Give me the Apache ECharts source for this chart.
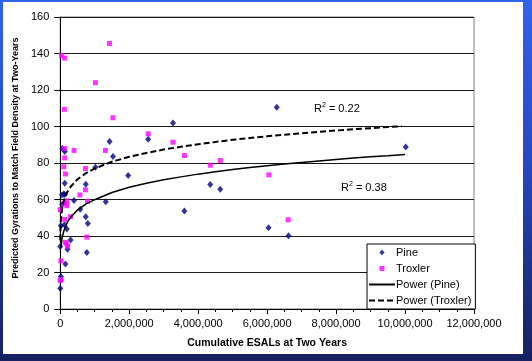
<!DOCTYPE html>
<html><head><meta charset="utf-8">
<script src="https://cdn.jsdelivr.net/npm/echarts@6/dist/echarts.min.js"></script>
<style>
html,body{margin:0;padding:0;width:532px;height:361px;overflow:hidden;background:linear-gradient(180deg,#3163ea 0%,#2648c0 45%,#15205e 100%);}
#chart{position:absolute;left:3px;top:2px;width:520px;height:352px;background:#fff;}
</style></head><body><div id="chart"></div>
<script>
// Pine (navy diamonds)
const pineX = [6280000, 3270000, 2550000, 1430000, 60000, 130000, 1530000, 1020000, 1970000, 130000, 740000, 4350000, 4640000, 130000, 100000, 400000, 1320000, 580000, 3600000, 740000, 800000, 20000, 120000, 190000, 300000, 210000, 770000, 0, 150000, 20000, 0, 6040000, 6620000, 10020000, 50000, 60000];
const pineY = [110.5, 101.9, 93, 91.8, 88, 86.3, 83.5, 77.7, 73.1, 68.9, 68.4, 68.2, 65.6, 62.8, 63, 59.4, 58.7, 54.6, 53.7, 50.6, 46.9, 45.6, 46.2, 43.8, 37.8, 32.8, 31, 34.3, 24.6, 17.8, 11.2, 44.5, 40.1, 88.7, 62.5, 57.2];
// Troxler (magenta squares)
const troxX = [40000, 130000, 1430000, 1020000, 120000, 1530000, 2550000, 3270000, 130000, 400000, 1310000, 130000, 3600000, 100000, 730000, 150000, 730000, 570000, 190000, 190000, 0, 790000, 300000, 130000, 210000, 150000, 770000, 20000, 20000, 4350000, 4640000, 6050000, 6610000, 120000, 190000, 0];
const troxY = [139, 137.5, 145.5, 124, 109.4, 104.8, 96, 91.4, 88, 86.9, 86.9, 82.8, 84.1, 77.9, 77, 74, 65.3, 62.5, 59.2, 56.6, 54.4, 59, 50.6, 49.1, 34.3, 36.5, 39.4, 26.4, 16.1, 78.8, 81.4, 73.5, 48.9, 58, 35.6, 15.6];
// Power trend lines
const pineTrendX = [20000, 50000, 100000, 200000, 300000, 500000, 750000, 1000000, 1500000, 2000000, 2500000, 3000000, 3500000, 4000000, 4500000, 5000000, 5500000, 6000000, 6500000, 7000000, 7500000, 8000000, 8500000, 9000000, 9500000, 10000000];
const pineTrendY = [33.5, 38.4, 42.6, 47.3, 50.2, 54.2, 57.6, 59.9, 63.8, 66.7, 68.9, 70.8, 72.4, 73.9, 75.2, 76.4, 77.5, 78.5, 79.4, 80.3, 81.1, 81.9, 82.7, 83.4, 84.0, 84.7];
const troxTrendX = [2000, 5000, 10000, 20000, 50000, 100000, 200000, 300000, 500000, 750000, 1000000, 1500000, 2000000, 2500000, 3000000, 3500000, 4000000, 4500000, 5000000, 5500000, 6000000, 6500000, 7000000, 7500000, 8000000, 8500000, 9000000, 9500000, 9900000];
const troxTrendY = [37.7, 41.9, 45.3, 49.1, 54.6, 59.1, 64.0, 67.0, 71.1, 74.5, 77.0, 80.7, 83.4, 85.5, 87.4, 88.9, 90.3, 91.5, 92.7, 93.7, 94.6, 95.5, 96.3, 97.1, 97.8, 98.5, 99.1, 99.7, 100.2];
const seriesNames = ['Pine', 'Troxler', 'Power (Pine)', 'Power (Troxler)'];
const r2Labels = ['0.22', '0.38'];
const xTitle = 'Cumulative ESALs at Two Years';
const yTitle = 'Predicted Gyrations to Match Field Density at Two-Years';

const zip = (a, b) => a.map((v, i) => [v, b[i]]);
const FONT = '"Liberation Sans", Arial, sans-serif';

const chart = echarts.init(document.getElementById('chart'), null, {renderer: 'canvas'});
chart.setOption({
  animation: false,
  textStyle: {fontFamily: FONT, color: '#000'},
  grid: {left: 53, right: 49, top: 15, bottom: 45, show: true, borderColor: '#808080', borderWidth: 1, containLabel: false},
  xAxis: {
    type: 'value', min: 0, max: 12000000, interval: 2000000,
    name: xTitle, nameLocation: 'middle', nameGap: 29,
    nameTextStyle: {fontFamily: FONT, fontSize: 10.5, fontWeight: 'bold', color: '#000'},
    axisLine: {show: true, lineStyle: {color: '#000', width: 1}},
    axisTick: {show: true, length: 5, lineStyle: {color: '#000'}},
    minorTick: {show: true, splitNumber: 4, length: 3, lineStyle: {color: '#000'}},
    splitLine: {show: false},
    axisLabel: {fontFamily: FONT, fontSize: 11, color: '#000', margin: 9,
      formatter: v => Math.round(v).toLocaleString('en-US')}
  },
  yAxis: {
    type: 'value', min: 0, max: 160, interval: 20,
    name: yTitle, nameLocation: 'middle', nameGap: 31,
    nameTextStyle: {fontFamily: FONT, fontSize: 9, fontWeight: 'bold', color: '#000', padding: [0, 0, 0, 10]},
    axisLine: {show: true, lineStyle: {color: '#000', width: 1}},
    axisTick: {show: true, length: 6, lineStyle: {color: '#000'}},
    splitLine: {show: true, lineStyle: {color: '#1a1a1a', width: 1}},
    axisLabel: {fontFamily: FONT, fontSize: 11, color: '#000', margin: 11}
  },
  legend: {
    orient: 'vertical', left: 364, top: 242,
    backgroundColor: '#fff', borderColor: '#000', borderWidth: 1, borderRadius: 0,
    padding: [3, 4, 3, 1], itemGap: 5, itemWidth: 26, itemHeight: 10,
    textStyle: {fontFamily: FONT, fontSize: 11, color: '#000', padding: [0, 0, 0, -4]},
    data: [
      {name: seriesNames[0], icon: 'path://M0,0h0.01M26,10h0.01M13,2.2L15.6,5L13,7.8L10.4,5Z'},
      {name: seriesNames[1], icon: 'path://M0,0h0.01M26,10h0.01M10.5,2.5h5v5h-5Z'},
      {name: seriesNames[2], itemStyle: {opacity: 0}},
      {name: seriesNames[3], itemStyle: {opacity: 0}}
    ]
  },
  graphic: [
    {type: 'text', left: 311, top: 100, style: {text: 'R{s|2}{n| = ' + r2Labels[0] + '}',
      font: '11px ' + FONT, fill: '#000',
      rich: {s: {fontSize: 7, fontFamily: FONT, verticalAlign: 'top', lineHeight: 14, fill: '#000'}, n: {fontSize: 11, fontFamily: FONT, lineHeight: 14, fill: '#000'}}}},
    {type: 'text', left: 338, top: 179, style: {text: 'R{s|2}{n| = ' + r2Labels[1] + '}',
      font: '11px ' + FONT, fill: '#000',
      rich: {s: {fontSize: 7, fontFamily: FONT, verticalAlign: 'top', lineHeight: 14, fill: '#000'}, n: {fontSize: 11, fontFamily: FONT, lineHeight: 14, fill: '#000'}}}}
  ],
  series: [
    {name: seriesNames[0], type: 'scatter', symbol: 'diamond', symbolSize: [6, 7],
      itemStyle: {color: '#000080'}, data: zip(pineX, pineY), z: 3},
    {name: seriesNames[1], type: 'scatter', symbol: 'rect', symbolSize: 5,
      itemStyle: {color: '#ff00ff'}, data: zip(troxX, troxY), z: 4},
    {name: seriesNames[2], type: 'line', symbol: 'none', smooth: false,
      lineStyle: {color: '#000', width: 1.5}, itemStyle: {color: '#000'},
      data: zip(pineTrendX, pineTrendY), z: 5},
    {name: seriesNames[3], type: 'line', symbol: 'none', smooth: false,
      lineStyle: {color: '#000', width: 2, type: [6, 3]}, itemStyle: {color: '#000'},
      data: zip(troxTrendX, troxTrendY), z: 5}
  ]
});
</script></body></html>
